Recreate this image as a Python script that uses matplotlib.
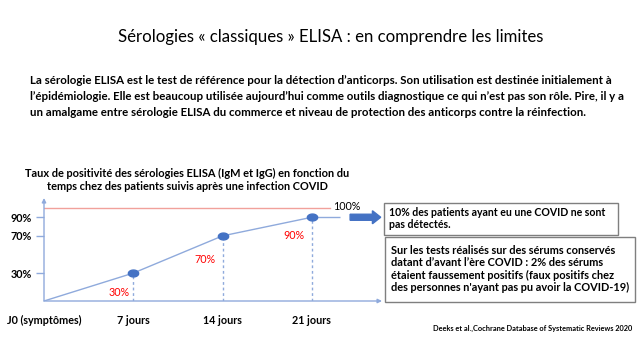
import numpy as np
import matplotlib
matplotlib.use('Agg')
import matplotlib.pyplot as plt
from matplotlib.patches import Rectangle, FancyArrow

# ---------------- data ----------------
days = [0, 7, 14, 21]
positivity = [0, 30, 70, 90]
point_labels = ['30%', '70%', '90%']
x_tick_labels = ['J0 (symptômes)', '7 jours', '14 jours', '21 jours']
y_ticks = [30, 70, 90]
y_tick_labels = ['30%', '70%', '90%']
ceiling = 100
ceiling_label = '100%'

title = 'Sérologies « classiques » ELISA : en comprendre les limites'
intro = ["La sérologie ELISA est le test de référence pour la détection d’anticorps. Son utilisation est destinée initialement à",
         "l’épidémiologie. Elle est beaucoup utilisée aujourd’hui comme outils diagnostique ce qui n’est pas son rôle. Pire, il y a",
         "un amalgame entre sérologie ELISA du commerce et niveau de protection des anticorps contre la réinfection."]
chart_title = ["Taux de positivité des sérologies ELISA (IgM et IgG) en fonction du",
               "temps chez des patients suivis après une infection COVID"]
box1 = ["10% des patients ayant eu une COVID ne sont", "pas détectés."]
box2 = ["Sur les tests réalisés sur des sérums conservés",
        "datant d’avant l’ère COVID : 2% des sérums",
        "étaient faussement positifs (faux positifs chez",
        "des personnes n'ayant pas pu avoir la COVID-19)"]
source = 'Deeks et al.,Cochrane Database of Systematic Reviews 2020'

# ---------------- styles ----------------
FONT = ['Lato', 'DejaVu Sans']
AXC = '#8FAADC'
PT = '#4472C4'
W, H = 640, 360

fig = plt.figure(figsize=(6.4, 3.6), dpi=100)
bg = fig.add_axes([0, 0, 1, 1])
bg.set_xlim(0, W)
bg.set_ylim(H, 0)
bg.axis('off')
renderer = fig.canvas.get_renderer()


def measure_size(s, width, weight='bold'):
    t = bg.text(0, 0, s, fontsize=10, fontweight=weight, family=FONT)
    w = t.get_window_extent(renderer).width
    t.remove()
    return 10 * width / w


def fit_lines(x, ys, lines, width, ha='left', weight='bold', color='black', ref=0):
    size = measure_size(lines[ref], width, weight)
    for y, s in zip(ys, lines):
        bg.text(x, y, s, ha=ha, va='center', fontsize=size, fontweight=weight,
                family=FONT, color=color)
    return size


fit_lines(331, [37], [title], 427, ha='center', weight='normal')
fit_lines(30, [80, 97, 113], intro, 580)
fit_lines(187, [173, 187], chart_title, 326, ha='center')

# boxes
bg.add_patch(Rectangle((384, 203), 234, 32, fill=False, ec='#7F7F7F', lw=1))
fit_lines(389, [213, 225], box1, 217)
bg.add_patch(Rectangle((385, 237), 250, 65, fill=False, ec='#7F7F7F', lw=1))
fit_lines(391, [251, 263, 275, 287], box2, 239, ref=3)
fit_lines(632, [328], [source], 201, ha='right')

# ---------------- chart ----------------
ax = fig.add_axes([44 / W, (H - 301) / H, (382 - 44) / W, (301 - 198) / H])
ax.set_xlim(0, 26.5)
ax.set_ylim(0, 110.7)
ax.patch.set_alpha(0)
for sp in ax.spines.values():
    sp.set_visible(False)

# axes with arrows
ax.annotate('', xy=(0, 1), xytext=(0, 0), xycoords='axes fraction',
            arrowprops=dict(arrowstyle='-|>', color=AXC, lw=1, mutation_scale=6,
                            shrinkA=0, shrinkB=0))
ax.annotate('', xy=(1, 0), xytext=(0, 0), xycoords='axes fraction',
            arrowprops=dict(arrowstyle='-|>', color=AXC, lw=1, mutation_scale=6,
                            shrinkA=0, shrinkB=0))

tick_size = measure_size('14 jours', 39)
ax.set_xticks(days, x_tick_labels, fontsize=tick_size, fontweight='bold', family=FONT)
ax.set_yticks(y_ticks, y_tick_labels, fontsize=tick_size, fontweight='bold', family=FONT)
ax.tick_params(axis='x', length=0, pad=10)
ax.tick_params(axis='y', length=6, width=1, color=AXC, pad=3)
ax.get_xticklabels()[0].set_x(0.4)

# ceiling line
ax.axhline(ceiling, xmin=0, xmax=0.846, color='#F1A19B', lw=1)
ax.annotate(ceiling_label, xy=(days[-1], ceiling), xytext=(15, 1), textcoords='offset points',
            ha='left', va='center', fontsize=tick_size, family=FONT)

# dashed drop lines
ax.vlines(days[1:], 0, positivity[1:], colors=AXC, linestyles=(0, (2, 2)), lw=1)

# main line + extension
ax.plot(days, positivity, color=AXC, lw=1)
ax.hlines(positivity[-1], days[-1], days[-1] + 2.2, color=AXC, lw=1)

# ellipse markers
th = np.linspace(0, 2 * np.pi, 60)
ell = np.column_stack([1.5 * np.cos(th), np.sin(th)])
ax.scatter(days[1:], positivity[1:], marker=ell, s=55, color=PT, zorder=3)

# red point labels
red_size = measure_size('70%', 21, weight='normal')
offsets = [(-10, -14), (-13, -17), (-13, -13)]
for d, v, lab, off in zip(days[1:], positivity[1:], point_labels, offsets):
    ax.annotate(lab, xy=(d, v), xytext=off, textcoords='offset points',
                ha='center', va='center', color='#FF0000', fontsize=red_size, family=FONT)

# block arrow
arr = FancyArrow(24.0, positivity[-1], 1.75, 0, width=6.5, head_width=14,
                 head_length=0.65, length_includes_head=False, color=PT, clip_on=False)
ax.add_patch(arr)

fig.savefig('out.png', dpi=100)
